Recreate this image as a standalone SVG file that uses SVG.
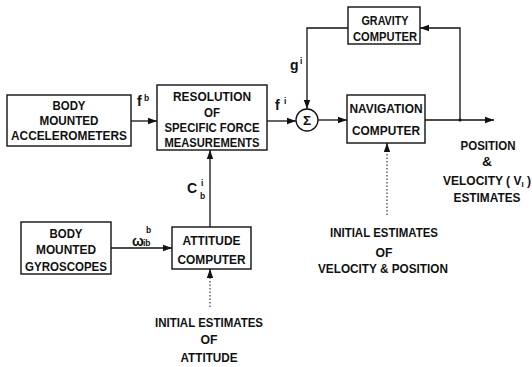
<svg xmlns="http://www.w3.org/2000/svg" width="532" height="367" viewBox="0 0 532 367">
<style>
.box{fill:#fff;stroke:#111;stroke-width:1.4}
.t{font-family:"Liberation Sans",Arial,sans-serif;font-weight:bold;font-size:13.5px;fill:#111;text-anchor:middle}
.l{font-family:"Liberation Sans",Arial,sans-serif;font-weight:bold;font-size:14px;fill:#111}
.s{font-family:"Liberation Sans",Arial,sans-serif;font-weight:bold;font-size:8.5px;fill:#111}
.c{fill:none;stroke:#111;stroke-width:1.3}
.d{fill:none;stroke:#111;stroke-width:1;stroke-dasharray:1.5 2}
</style>
<defs>
<marker id="ah" markerUnits="userSpaceOnUse" markerWidth="10" markerHeight="8" refX="9" refY="4" orient="auto">
<path d="M0,0.8 L9,4 L0,7.2 Z" fill="#111"/>
</marker>
</defs>
<rect width="532" height="367" fill="#fff"/>
<g id="connectors">
<line class="c" x1="131" y1="121" x2="157" y2="121" marker-end="url(#ah)"/>
<line class="c" x1="267" y1="121" x2="296" y2="121" marker-end="url(#ah)"/>
<line class="c" x1="318" y1="120" x2="347" y2="120" marker-end="url(#ah)"/>
<line class="c" x1="425" y1="120" x2="494" y2="120" marker-end="url(#ah)"/>
<polyline class="c" points="460,120 460,28 420,28" marker-end="url(#ah)"/>
<polyline class="c" points="348,28 307,28 307,109" marker-end="url(#ah)"/>
<line class="c" x1="210" y1="227" x2="210" y2="150" marker-end="url(#ah)"/>
<line class="c" x1="111" y1="248" x2="172" y2="248" marker-end="url(#ah)"/>
<line class="d" x1="210" y1="307" x2="210" y2="277"/>
<line class="c" x1="210" y1="278" x2="210" y2="269" marker-end="url(#ah)"/>
<line class="d" x1="387" y1="215" x2="387" y2="151"/>
<line class="c" x1="387" y1="152" x2="387" y2="143" marker-end="url(#ah)"/>
<circle cx="460" cy="120" r="1.5" fill="#111"/>
</g>
<g id="labels">
<text class="l" x="137" y="106">f</text><text class="s" x="144" y="101">b</text>
<text class="l" x="275" y="110">f</text><text class="s" x="284" y="104">i</text>
<text class="l" x="290" y="70">g</text><text class="s" x="300" y="64">i</text>
<text class="l" x="187" y="193">C</text><text class="s" x="201" y="186">i</text><text class="s" x="200" y="199">b</text>
<text class="l" x="132" y="246">ω</text><text class="s" x="146" y="233">b</text><text class="s" x="143" y="246">ib</text>
</g>
<g id="accelerometers">
<rect class="box" x="7" y="95" width="124" height="51"/>
<text class="t" x="69" y="110" textLength="33" lengthAdjust="spacingAndGlyphs">BODY</text>
<text class="t" x="69" y="125" textLength="59" lengthAdjust="spacingAndGlyphs">MOUNTED</text>
<text class="t" x="69" y="140" textLength="116" lengthAdjust="spacingAndGlyphs">ACCELEROMETERS</text>
</g>
<g id="resolution">
<rect class="box" x="157" y="85" width="110" height="65"/>
<text class="t" x="212" y="101" textLength="78" lengthAdjust="spacingAndGlyphs">RESOLUTION</text>
<text class="t" x="212" y="117" textLength="16" lengthAdjust="spacingAndGlyphs">OF</text>
<text class="t" x="212" y="132" textLength="95" lengthAdjust="spacingAndGlyphs">SPECIFIC FORCE</text>
<text class="t" x="212" y="146.5" textLength="95" lengthAdjust="spacingAndGlyphs">MEASUREMENTS</text>
</g>
<g id="sum">
<circle cx="307" cy="120" r="11" fill="#fff" stroke="#111" stroke-width="1.3"/>
<text class="t" x="307" y="125" font-size="14">Σ</text>
</g>
<g id="gravity">
<rect class="box" x="348" y="7" width="72" height="37"/>
<text class="t" x="385" y="25" textLength="47" lengthAdjust="spacingAndGlyphs">GRAVITY</text>
<text class="t" x="385" y="41" textLength="64" lengthAdjust="spacingAndGlyphs">COMPUTER</text>
</g>
<g id="navigation">
<rect class="box" x="347" y="95" width="78" height="48"/>
<text class="t" x="386" y="113" textLength="73" lengthAdjust="spacingAndGlyphs">NAVIGATION</text>
<text class="t" x="386" y="135" textLength="68" lengthAdjust="spacingAndGlyphs">COMPUTER</text>
</g>
<g id="gyroscopes">
<rect class="box" x="21" y="222" width="90" height="52"/>
<text class="t" x="66" y="238" textLength="33" lengthAdjust="spacingAndGlyphs">BODY</text>
<text class="t" x="66" y="254" textLength="60" lengthAdjust="spacingAndGlyphs">MOUNTED</text>
<text class="t" x="66" y="270.5" textLength="82" lengthAdjust="spacingAndGlyphs">GYROSCOPES</text>
</g>
<g id="attitude">
<rect class="box" x="172" y="227" width="79" height="42"/>
<text class="t" x="211.5" y="245" textLength="58" lengthAdjust="spacingAndGlyphs">ATTITUDE</text>
<text class="t" x="211.5" y="264" textLength="68" lengthAdjust="spacingAndGlyphs">COMPUTER</text>
</g>
<g id="attitude-init">
<text class="t" x="209" y="327" textLength="108" lengthAdjust="spacingAndGlyphs">INITIAL ESTIMATES</text>
<text class="t" x="209" y="344" textLength="17" lengthAdjust="spacingAndGlyphs">OF</text>
<text class="t" x="209" y="362" textLength="57" lengthAdjust="spacingAndGlyphs">ATTITUDE</text>
</g>
<g id="nav-init">
<text class="t" x="384" y="237" textLength="108" lengthAdjust="spacingAndGlyphs">INITIAL ESTIMATES</text>
<text class="t" x="384" y="257" textLength="17" lengthAdjust="spacingAndGlyphs">OF</text>
<text class="t" x="383" y="273" textLength="130" lengthAdjust="spacingAndGlyphs">VELOCITY &amp; POSITION</text>
</g>
<g id="output">
<text class="t" x="488" y="150" textLength="55" lengthAdjust="spacingAndGlyphs">POSITION</text>
<text class="t" x="487" y="166" textLength="10" lengthAdjust="spacingAndGlyphs">&amp;</text>
<text class="t" x="487" y="185" font-size="12" style="font-size:12px">VELOCITY ( V<tspan font-size="8" style="font-size:8px" dy="2">I</tspan><tspan dy="-2"> )</tspan></text>
<text class="t" x="487" y="202" textLength="67" lengthAdjust="spacingAndGlyphs">ESTIMATES</text>
</g>
</svg>
